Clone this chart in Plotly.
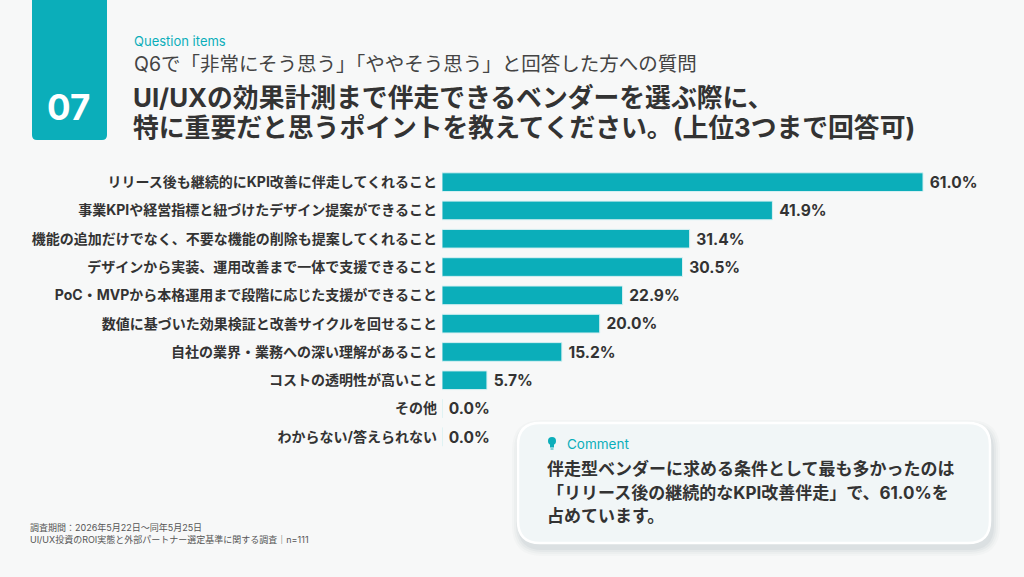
import plotly.graph_objects as go

categories = [
    "リリース後も継続的にKPI改善に伴走してくれること",
    "事業KPIや経営指標と紐づけたデザイン提案ができること",
    "機能の追加だけでなく、不要な機能の削除も提案してくれること",
    "デザインから実装、運用改善まで一体で支援できること",
    "PoC・MVPから本格運用まで段階に応じた支援ができること",
    "数値に基づいた効果検証と改善サイクルを回せること",
    "自社の業界・業務への深い理解があること",
    "コストの透明性が高いこと",
    "その他",
    "わからない/答えられない",
]
values = [61.0, 41.9, 31.4, 30.5, 22.9, 20.0, 15.2, 5.7, 0.0, 0.0]
value_labels = [f"{v:.1f}%" for v in values]

W, H = 1024, 577
L, R, T, B = 442, 30, 168, 126
PW, PH = W - L - R, H - T - B

def X(px):
    return (px - L) / PW

def Y(py):
    return (H - B - py) / PH

TEAL = "#0BAEBA"
DARK = "#333333"
FONT = "Inter, 'Noto Sans CJK JP', sans-serif"

fig = go.Figure(go.Bar(
    x=values, y=categories, orientation="h",
    marker=dict(color=TEAL, line=dict(color="#d8f0f2", width=1)),
    text=value_labels, texttemplate=" %{text}", textposition="outside",
    textfont=dict(family=FONT, size=17.5, color=DARK, weight="bold"),
    cliponaxis=False, width=0.66, hoverinfo="skip",
))

shapes = []
# 07 box with rounded bottom corners
x0, x1, y0, y1, r = X(32), X(107), Y(-5), Y(140), 5
rx, ry = r / PW, r / PH
shapes.append(dict(
    type="path", xref="paper", yref="paper",
    path=(f"M {x0},{y0} L {x1},{y0} L {x1},{y1+ry} Q {x1},{y1} {x1-rx},{y1} "
          f"L {x0+rx},{y1} Q {x0},{y1} {x0},{y1+ry} Z"),
    fillcolor=TEAL, line=dict(width=0), layer="below"))

def rounded(px0, py0, px1, py1, rad):
    a0, a1, b0, b1 = X(px0), X(px1), Y(py0), Y(py1)
    ax, ay = rad / PW, rad / PH
    return (f"M {a0+ax},{b0} L {a1-ax},{b0} Q {a1},{b0} {a1},{b0-ay} "
            f"L {a1},{b1+ay} Q {a1},{b1} {a1-ax},{b1} L {a0+ax},{b1} "
            f"Q {a0},{b1} {a0},{b1+ay} L {a0},{b0-ay} Q {a0},{b0} {a0+ax},{b0} Z")

for i, op in enumerate([0.02, 0.025, 0.03, 0.035]):
    g = 8 - 2 * i
    shapes.append(dict(type="path", xref="paper", yref="paper",
                       path=rounded(518 - g + 2, 423 - g + 5, 990 + g + 2, 543 + g + 5, 22 + g),
                       fillcolor=f"rgba(0,40,50,{op})", line=dict(width=0), layer="below"))
shapes.append(dict(type="path", xref="paper", yref="paper",
                   path=rounded(518, 423, 990, 543, 22),
                   fillcolor="#f1f6f7", line=dict(color="#ffffff", width=2.5), layer="below"))
# bulb icon
shapes.append(dict(type="circle", xref="paper", yref="paper",
                   x0=X(548), x1=X(556), y0=Y(437), y1=Y(445),
                   fillcolor=TEAL, line=dict(width=0)))
shapes.append(dict(type="rect", xref="paper", yref="paper",
                   x0=X(550), x1=X(554), y0=Y(444), y1=Y(447.5),
                   fillcolor=TEAL, line=dict(width=0)))
shapes.append(dict(type="line", xref="paper", yref="paper",
                   x0=X(550.5), x1=X(553.5), y0=Y(449), y1=Y(449),
                   line=dict(color=TEAL, width=1)))

ann = []
def txt(s, px, py, size, color=DARK, bold=False, xanchor="left", family=FONT):
    ann.append(dict(text=s, x=X(px), y=Y(py), xref="paper", yref="paper",
                    xanchor=xanchor, yanchor="middle", showarrow=False,
                    font=dict(family=family, size=size, color=color,
                              weight="bold" if bold else "normal")))

txt("07", 68.5, 107, 35, "#ffffff", True, "center")
txt("Question items", 132, 41, 13, TEAL)
txt("Q6で「非常にそう思う」「ややそう思う」と回答した方への質問", 132, 64, 19.5, "#444444")
txt("UI/UXの効果計測まで伴走できるベンダーを選ぶ際に、", 131, 97, 25.8, DARK, True)
txt("特に重要だと思うポイントを教えてください。(上位3つまで回答可)", 131, 127, 25.8, DARK, True)
txt("Comment", 565, 444, 13.5, TEAL)
txt("伴走型ベンダーに求める条件として最も多かったのは", 545, 469, 17, DARK, True)
txt("「リリース後の継続的なKPI改善伴走」で、61.0%を", 545, 493, 17, DARK, True)
txt("占めています。", 545, 516, 17, DARK, True)
txt("調査期間：2026年5月22日〜同年5月25日", 28, 527, 9, "#555555")
txt("UI/UX投資のROI実態と外部パートナー選定基準に関する調査｜n=111", 28, 539, 9, "#555555")

fig.update_layout(
    width=W, height=H,
    margin=dict(l=L, r=R, t=T, b=B),
    paper_bgcolor="#f7f8f8", plot_bgcolor="rgba(0,0,0,0)",
    showlegend=False, shapes=shapes, annotations=ann,
    xaxis=dict(range=[0, 70], visible=False, fixedrange=True),
    yaxis=dict(autorange="reversed", showgrid=False, zeroline=False,
               showline=False, ticks="", ticklabelstandoff=4,
               tickfont=dict(family=FONT, size=14, color=DARK, weight="bold"),
               fixedrange=True),
)

fig.write_html("out.html", config={"displayModeBar": False},
               post_script="document.body.style.margin='0';document.body.style.overflow='hidden';document.documentElement.style.background='#f7f8f8';")
